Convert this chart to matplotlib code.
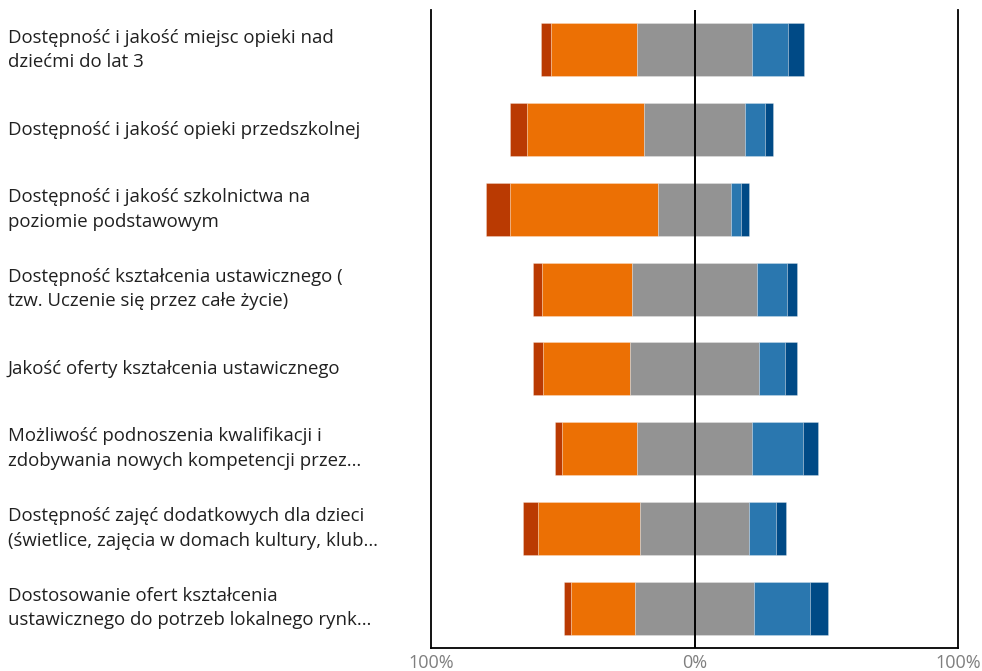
import matplotlib
matplotlib.use("Agg")
import matplotlib.pyplot as plt
import matplotlib.transforms as mtransforms
import numpy as np

plt.rcParams['font.family'] = ['Open Sans', 'DejaVu Sans']

categories = [
    "Dostępność i jakość miejsc opieki nad\ndziećmi do lat 3",
    "Dostępność i jakość opieki przedszkolnej",
    "Dostępność i jakość szkolnictwa na\npoziomie podstawowym",
    "Dostępność kształcenia ustawicznego (\ntzw. Uczenie się przez całe życie)",
    "Jakość oferty kształcenia ustawicznego",
    "Możliwość podnoszenia kwalifikacji i\nzdobywania nowych kompetencji przez…",
    "Dostępność zajęć dodatkowych dla dzieci\n(świetlice, zajęcia w domach kultury, klub…",
    "Dostosowanie ofert kształcenia\nustawicznego do potrzeb lokalnego rynk…",
]

very_bad = [4.0, 6.5, 9.2, 3.2, 3.8, 2.5, 5.6, 2.4]
bad      = [32.7, 44.4, 56.3, 34.3, 33.0, 28.7, 39.0, 24.5]
neutral  = [43.4, 38.5, 27.5, 47.3, 48.7, 43.4, 41.0, 45.0]
good     = [13.9, 7.4, 3.9, 11.3, 9.9, 19.4, 10.4, 21.3]
very_good = [6.0, 3.0, 2.9, 4.0, 4.6, 5.8, 3.9, 6.7]

tick_values = [-100, 0, 100]
tick_labels = ["100%", "0%", "100%"]

colors = ["#BA3A02", "#EC7004", "#939393", "#2A77AF", "#004A86"]

W, H = 982, 671
fig = plt.figure(figsize=(W / 100, H / 100), dpi=100)
ax = fig.add_axes([431 / W, (H - 648) / H, (958 - 431) / W, (648 - 10) / H])

series = [np.array(very_bad), np.array(bad), np.array(neutral),
          np.array(good), np.array(very_good)]
y = np.arange(len(categories))
start = -(series[0] + series[1] + series[2] / 2)
left = start.copy()
for vals, col in zip(series, colors):
    ax.barh(y, vals, left=left, height=0.667, color=col,
            edgecolor=(1, 1, 1, 0.25), linewidth=0.7, zorder=2)
    left = left + vals

ax.axvline(0, color="black", lw=1.4, zorder=3)

ax.set_xlim(-100, 100)
ax.set_ylim(len(categories) - 0.5, -0.5)
ax.set_xticks(tick_values)
ax.set_xticklabels(tick_labels, color="#7f7f7f", fontsize=13)
ax.tick_params(axis="x", length=0, pad=4)
ax.set_yticks([])
for s in ["left", "right", "bottom"]:
    ax.spines[s].set_color("black")
    ax.spines[s].set_linewidth(1.3)
ax.spines["top"].set_visible(False)

trans = mtransforms.blended_transform_factory(fig.transFigure, ax.transData)
for yi, lab in zip(y, categories):
    ax.text(8 / W, yi, lab, transform=trans, ha="left", va="center",
            fontsize=13.4, color="#202020", linespacing=1.45, clip_on=False)

fig.savefig("out.png", dpi=100)
